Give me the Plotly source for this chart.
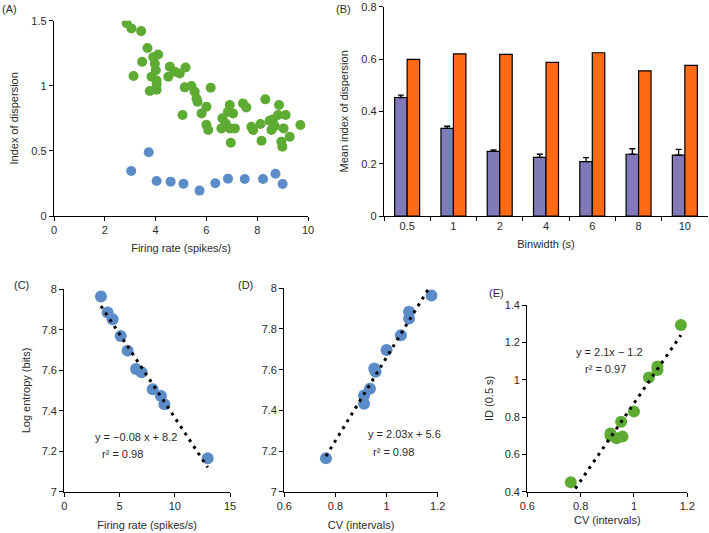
import numpy as np
import plotly.graph_objects as go

# ---------------- data ----------------
# Panel A
green_x = [2.86, 3.05, 3.43, 3.68, 3.47, 3.13, 3.91, 4.10, 3.97, 4.01,
           3.84, 4.04, 3.77, 4.04, 4.56, 4.50, 4.76, 4.95, 5.18, 5.06,
           5.15, 5.41, 5.54, 5.61, 5.65, 5.81, 6.00, 6.17, 6.00, 6.07,
           6.59, 6.63, 6.85, 6.92, 7.05, 6.92, 7.12, 6.96, 7.44, 7.57,
           7.77, 7.84, 8.13, 8.17, 8.32, 8.49, 8.56, 8.62, 8.86, 8.82,
           9.12, 9.04, 8.95, 8.99, 9.28, 9.70, 6.76, 8.69, 4.04]
green_y = [1.48, 1.44, 1.42, 1.29, 1.185, 1.075, 1.22, 1.24, 1.17, 1.12,
           1.07, 1.04, 0.96, 0.97, 1.147, 1.07, 1.108, 1.095, 1.14, 0.776,
           0.988, 0.998, 0.955, 0.903, 0.878, 0.788, 0.84, 0.985, 0.70, 0.66,
           0.673, 0.75, 0.80, 0.852, 0.788, 0.673, 0.673, 0.563, 0.865, 0.834,
           0.686, 0.66, 0.706, 0.578, 0.896, 0.732, 0.66, 0.742, 0.852, 0.776,
           0.776, 0.673, 0.571, 0.532, 0.609, 0.699, 0.71, 0.69, 1.01]
blue_x = [3.04, 3.73, 4.04, 4.59, 5.10, 5.73, 6.35, 6.85, 7.51, 8.23, 8.72, 9.00]
blue_y = [0.346, 0.489, 0.269, 0.264, 0.248, 0.195, 0.251, 0.287, 0.284, 0.284, 0.325, 0.246]

# Panel B
binwidths = ["0.5", "1", "2", "4", "6", "8", "10"]
real_id = [0.453, 0.335, 0.247, 0.224, 0.208, 0.236, 0.233]
real_err = [0.009, 0.008, 0.006, 0.012, 0.015, 0.021, 0.022]
shuffled_id = [0.599, 0.620, 0.618, 0.587, 0.624, 0.555, 0.576]

# Panels C, D, E
firing_rate = [3.32, 3.92, 4.38, 5.10, 5.73, 6.49, 7.00, 8.00, 8.75, 9.06, 12.98]
log_entropy = [7.964, 7.885, 7.852, 7.769, 7.697, 7.606, 7.590, 7.506, 7.473, 7.432, 7.165]
cv_intervals = [1.176, 1.088, 1.088, 1.056, 1.000, 0.952, 0.957, 0.935, 0.912, 0.912, 0.763]
id_05 = [1.293, 1.070, 1.052, 1.012, 0.829, 0.775, 0.695, 0.686, 0.712, 0.700, 0.450]

# ---------------- styling ----------------
FONT = "Liberation Sans"
TXT = "#2a2a2a"
GREEN = "#5dab32"
BLUE = "#5b8cc8"
PURPLE = "#807ab8"
ORANGE = "#ff6a17"
W, H = 709, 533


def dom_x(a, b):
    return [a / W, b / W]


def dom_y(top, bottom):
    return [1 - bottom / H, 1 - top / H]


def axis_style(**kw):
    d = dict(showline=True, linecolor="black", linewidth=1.3, ticks="outside",
             ticklen=4, tickwidth=1.2, tickcolor="black", showgrid=False,
             zeroline=False, automargin=False,
             tickfont=dict(family=FONT, size=11, color=TXT),
             title_font=dict(family=FONT, size=11, color=TXT))
    d.update(kw)
    return d


def trend(x, y):
    x = np.asarray(x)
    m, c = np.polyfit(x, np.asarray(y), 1)
    xs = np.array([x.min(), x.max()])
    return xs, m * xs + c


fig = go.Figure()

# Panel A
fig.add_trace(go.Scatter(x=green_x, y=green_y, mode="markers", xaxis="x", yaxis="y",
                         marker=dict(color=GREEN, size=10), showlegend=False))
fig.add_trace(go.Scatter(x=blue_x, y=blue_y, mode="markers", xaxis="x", yaxis="y",
                         marker=dict(color=BLUE, size=10), showlegend=False))

# Panel B
fig.add_trace(go.Bar(x=binwidths, y=real_id, xaxis="x2", yaxis="y2",
                     marker=dict(color=PURPLE, line=dict(color="black", width=1.2)),
                     error_y=dict(type="data", array=real_err, arrayminus=[0] * len(real_err),
                                  symmetric=False, color="black", thickness=1.3, width=3),
                     showlegend=False))
fig.add_trace(go.Bar(x=binwidths, y=shuffled_id, xaxis="x2", yaxis="y2",
                     marker=dict(color=ORANGE, line=dict(color="black", width=1.2)),
                     showlegend=False))

DOT = "3px,5px"
# Panel C
tx, ty = trend(firing_rate, log_entropy)
fig.add_trace(go.Scatter(x=firing_rate, y=log_entropy, mode="markers", xaxis="x3", yaxis="y3",
                         marker=dict(color=BLUE, size=12), showlegend=False))
fig.add_trace(go.Scatter(x=tx, y=ty, mode="lines", xaxis="x3", yaxis="y3",
                         line=dict(color="black", width=3, dash=DOT), showlegend=False))
# Panel D
tx, ty = trend(cv_intervals, log_entropy)
fig.add_trace(go.Scatter(x=cv_intervals, y=log_entropy, mode="markers", xaxis="x4", yaxis="y4",
                         marker=dict(color=BLUE, size=12), showlegend=False))
fig.add_trace(go.Scatter(x=tx, y=ty, mode="lines", xaxis="x4", yaxis="y4",
                         line=dict(color="black", width=3, dash=DOT), showlegend=False))
# Panel E
tx, ty = trend(cv_intervals, id_05)
fig.add_trace(go.Scatter(x=cv_intervals, y=id_05, mode="markers", xaxis="x5", yaxis="y5",
                         marker=dict(color=GREEN, size=12), showlegend=False))
fig.add_trace(go.Scatter(x=tx, y=ty, mode="lines", xaxis="x5", yaxis="y5",
                         line=dict(color="black", width=3, dash=DOT), showlegend=False))

fig.update_layout(
    template="none",
    width=W, height=H, margin=dict(l=0, r=0, t=0, b=0, autoexpand=False),
    paper_bgcolor="white", plot_bgcolor="white",
    barmode="group", bargap=0.46, bargroupgap=0.0,
    font=dict(family=FONT, size=11, color=TXT),
    # A
    xaxis=axis_style(domain=dom_x(54, 308), range=[0, 10], dtick=2, anchor="y",
                     title=dict(text="Firing rate (spikes/s)", standoff=8)),
    yaxis=axis_style(domain=dom_y(20.7, 216), range=[0, 1.5], dtick=0.5, anchor="x",
                     title=dict(text="Index of dispersion", standoff=10)),
    # B
    xaxis2=axis_style(domain=dom_x(384, 708), anchor="y2", type="category",
                      tickson="boundaries",
                      title=dict(text="Binwidth (s)", standoff=8)),
    yaxis2=axis_style(domain=dom_y(6.7, 216), range=[0, 0.8], dtick=0.2, anchor="x2",
                      title=dict(text="Mean index of dispersion", standoff=10)),
    # C
    xaxis3=axis_style(domain=dom_x(64.3, 230), range=[0, 15], dtick=5, anchor="y3",
                      title=dict(text="Firing rate (spikes/s)", standoff=10)),
    yaxis3=axis_style(domain=dom_y(289.3, 491.7), range=[7, 8], dtick=0.2, anchor="x3",
                      title=dict(text="Log entropy (bits)", standoff=8)),
    # D
    xaxis4=axis_style(domain=dom_x(284.3, 437.7), range=[0.6, 1.2], dtick=0.2, anchor="y4",
                      title=dict(text="CV (intervals)", standoff=10)),
    yaxis4=axis_style(domain=dom_y(288.3, 491.7), range=[7, 8], dtick=0.2, anchor="x4"),
    # E
    xaxis5=axis_style(domain=dom_x(527.3, 687.3), range=[0.6, 1.2], dtick=0.2, anchor="y5",
                      title=dict(text="CV (intervals)", standoff=5)),
    yaxis5=axis_style(domain=dom_y(305, 491.7), range=[0.4, 1.4], dtick=0.2, anchor="x5",
                      title=dict(text="ID (0.5 s)", standoff=8)),
)


def ann(text, x, y, xanchor="left", yanchor="middle", size=11):
    fig.add_annotation(text=text, x=x / W, y=1 - y / H, xref="paper", yref="paper",
                       xanchor=xanchor, yanchor=yanchor, showarrow=False,
                       font=dict(family=FONT, size=size, color=TXT))


# panel labels
ann("(A)", 0, 9)
ann("(B)", 334, 9)
ann("(C)", 12, 285)
ann("(D)", 236, 285)
ann("(E)", 487, 293)

# regression equations
ann("y = \u22120.08 x + 8.2", 93, 437)
ann("r\u00b2 = 0.98", 100, 454)
ann("y = 2.03x + 5.6", 366, 434)
ann("r\u00b2 = 0.98", 371, 452)
ann("y = 2.1x \u2212 1.2", 574, 352)
ann("r\u00b2 = 0.97", 583, 369)

fig.write_html("out.html", config={"displayModeBar": False},
               post_script="document.body.style.margin='0';document.body.style.overflow='hidden';")
